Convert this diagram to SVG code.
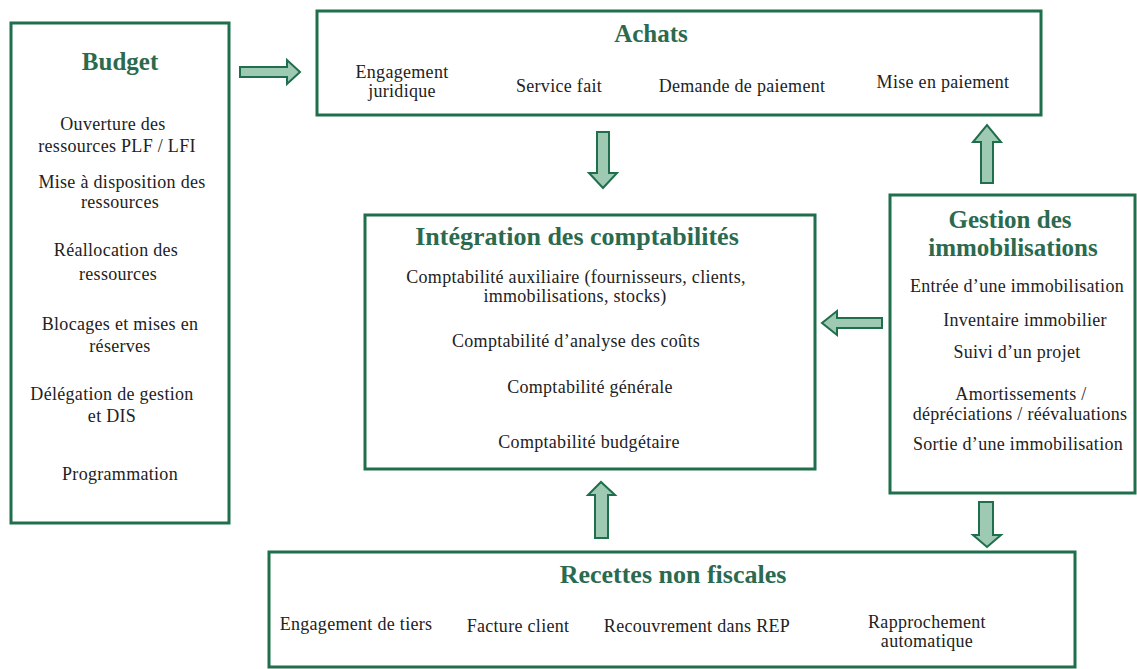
<svg xmlns="http://www.w3.org/2000/svg" width="1137" height="669" viewBox="0 0 1137 669">
<style>
.box{fill:#ffffff;stroke:#1f6e4c;stroke-width:3}
.arrow{fill:#9ec9b2;stroke:#1f6e4c;stroke-width:2;stroke-linejoin:miter}
.title{font-family:"Liberation Serif",serif;font-weight:bold;font-size:25px;fill:#2b6a4e;text-anchor:middle}
.t{font-family:"Liberation Serif",serif;font-size:18px;fill:#222;text-anchor:middle;letter-spacing:0.3px}
</style>
<rect width="1137" height="669" fill="#ffffff"/>
<g id="budget">
<rect class="box" x="11" y="23" width="218" height="500"/>
<text class="title" x="120" y="70">Budget</text>
<text class="t" x="113" y="130">Ouverture des</text>
<text class="t" x="117" y="152">ressources PLF / LFI</text>
<text class="t" x="122" y="188">Mise à disposition des</text>
<text class="t" x="120" y="208">ressources</text>
<text class="t" x="116" y="256">Réallocation des</text>
<text class="t" x="118" y="280">ressources</text>
<text class="t" x="120" y="330">Blocages et mises en</text>
<text class="t" x="120" y="352">réserves</text>
<text class="t" x="112" y="400">Délégation de gestion</text>
<text class="t" x="112" y="422">et DIS</text>
<text class="t" x="120" y="480">Programmation</text>
</g>
<g id="achats">
<rect class="box" x="317" y="11" width="724" height="104"/>
<text class="title" x="651" y="42">Achats</text>
<text class="t" x="402" y="78">Engagement</text>
<text class="t" x="402" y="97">juridique</text>
<text class="t" x="559" y="92">Service fait</text>
<text class="t" x="742" y="92">Demande de paiement</text>
<text class="t" x="943" y="88">Mise en paiement</text>
</g>
<g id="integration">
<rect class="box" x="365" y="215" width="450" height="254"/>
<text class="title" x="577" y="245" style="font-size:26px">Intégration des comptabilités</text>
<text class="t" x="576" y="283">Comptabilité auxiliaire (fournisseurs, clients,</text>
<text class="t" x="575" y="302">immobilisations, stocks)</text>
<text class="t" x="576" y="347">Comptabilité d’analyse des coûts</text>
<text class="t" x="590" y="393">Comptabilité générale</text>
<text class="t" x="589" y="448">Comptabilité budgétaire</text>
</g>
<g id="gestion">
<rect class="box" x="890" y="195" width="245" height="298"/>
<text class="title" style="font-size:25px"><tspan x="1010" y="228">Gestion des</tspan><tspan x="1013" y="256">immobilisations</tspan></text>
<text class="t" x="1017" y="292">Entrée d’une immobilisation</text>
<text class="t" x="1025" y="326">Inventaire immobilier</text>
<text class="t" x="1017" y="358">Suivi d’un projet</text>
<text class="t" x="1021" y="400">Amortissements /</text>
<text class="t" x="1020" y="420">dépréciations / réévaluations</text>
<text class="t" x="1018" y="450">Sortie d’une immobilisation</text>
</g>
<g id="recettes">
<rect class="box" x="269" y="552" width="806" height="115"/>
<text class="title" x="673" y="583" style="font-size:26px">Recettes non fiscales</text>
<text class="t" x="356" y="630">Engagement de tiers</text>
<text class="t" x="518" y="632">Facture client</text>
<text class="t" x="697" y="632">Recouvrement dans REP</text>
<text class="t" x="927" y="628">Rapprochement</text>
<text class="t" x="927" y="647">automatique</text>
</g>
<g id="connectors">
<polygon class="arrow" points="240,67 287,67 287,60 300,72 287,84 287,77 240,77"/>
<polygon class="arrow" points="597,132 609,132 609,173 617,173 603,188 589,173 597,173"/>
<polygon class="arrow" points="981,183 993,183 993,142 1001,142 987,125 973,142 981,142"/>
<polygon class="arrow" points="882,318 837,318 837,311 822,323 837,335 837,328 882,328"/>
<polygon class="arrow" points="595,538 608,538 608,495 615,495 601,482 588,495 595,495"/>
<polygon class="arrow" points="979,502 993,502 993,535 1001,535 987,547 973,535 979,535"/>
</g>
</svg>
